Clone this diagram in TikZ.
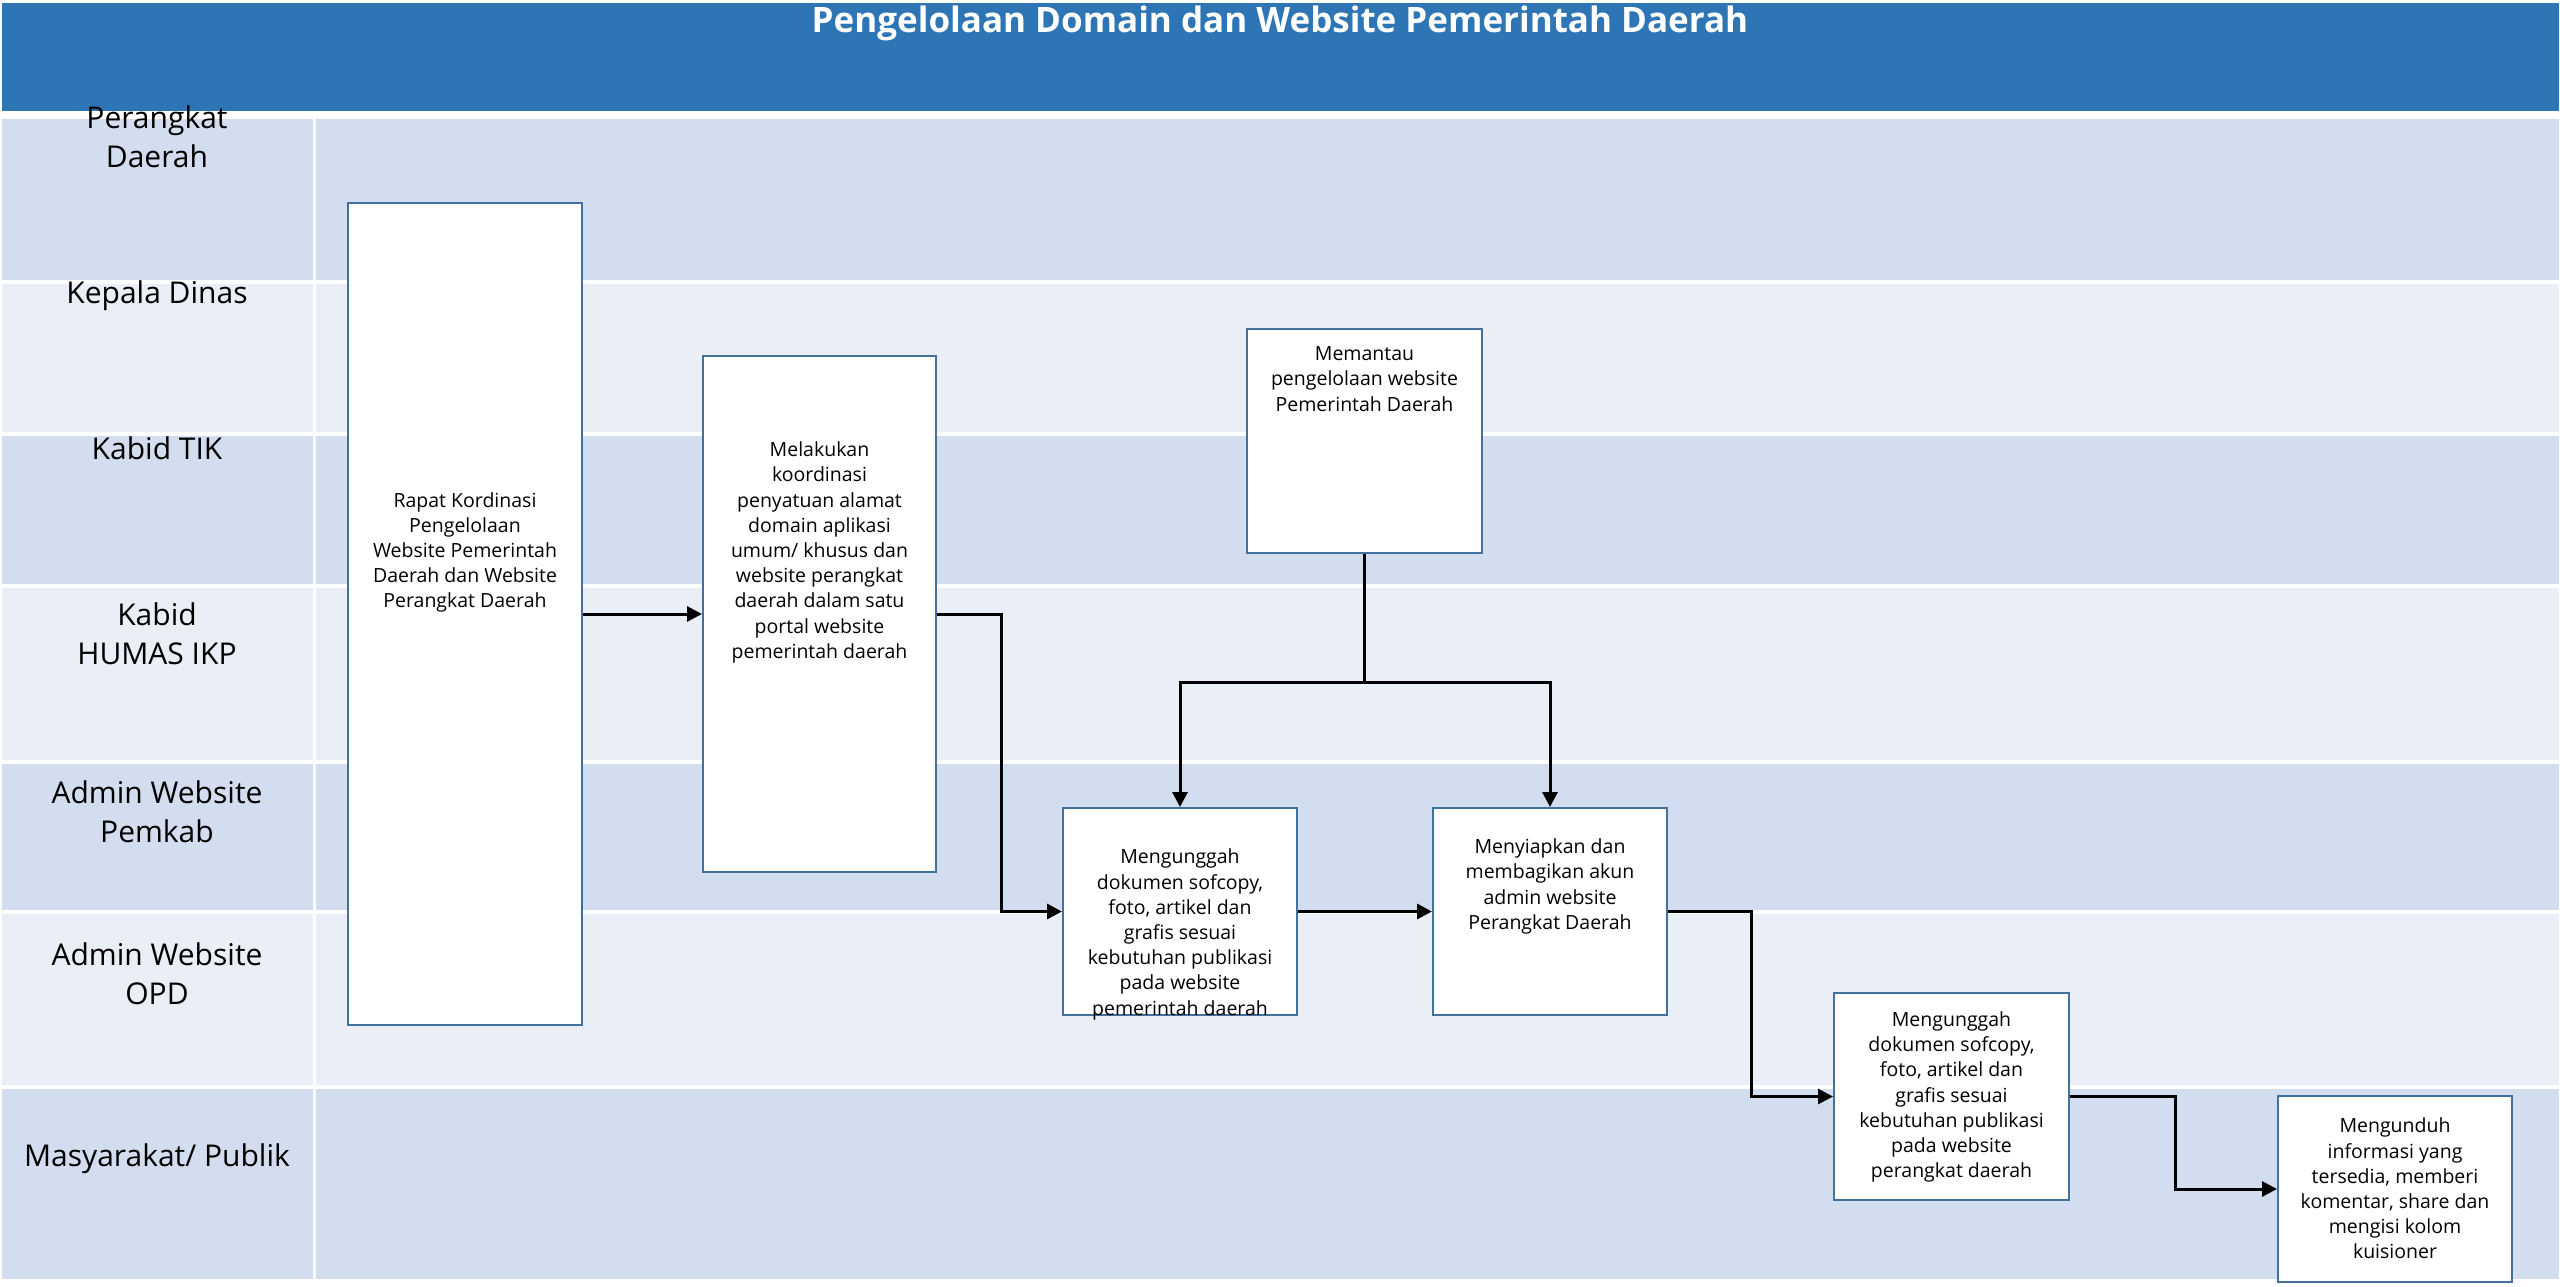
\documentclass[tikz,border=0pt]{standalone}
\usepackage{fontspec}
\setmainfont{Open Sans}
\usetikzlibrary{arrows.meta}

\definecolor{titleblue}{HTML}{2E75B6}
\definecolor{lanedark}{HTML}{D2DEEF}
\definecolor{lanelight}{HTML}{E9EEF7}
\definecolor{boxblue}{HTML}{41719C}

\begin{document}
\begin{tikzpicture}[x=1pt,y=-1pt,
	box/.style={draw=boxblue,line width=2pt,fill=white,inner sep=0pt},
	boxtext/.style={align=center,inner sep=0pt,font=\fontsize{19.5}{25.2}\selectfont},
	lanetext/.style={align=center,inner sep=0pt,font=\fontsize{30}{39}\selectfont},
	flow/.style={line width=3pt,-{Triangle[length=15pt,width=15pt]}}]

		\useasboundingbox (0,0) rectangle (2560,1287);
		\fill [white] (0,0) rectangle (2560,1287);

		\fill [titleblue] (2,3) rectangle (2559,111);
		\node [anchor=base,text=white,inner sep=0pt,font=\fontsize{35}{40}\selectfont\bfseries] (TITLE) at (1280,33) {Pengelolaan Domain dan Website Pemerintah Daerah};

		\fill [lanedark] (2,119) rectangle (2559,280);
		\fill [lanelight] (2,284) rectangle (2559,432);
		\fill [lanedark] (2,436) rectangle (2559,584);
		\fill [lanelight] (2,588) rectangle (2559,760);
		\fill [lanedark] (2,764) rectangle (2559,910);
		\fill [lanelight] (2,914) rectangle (2559,1085);
		\fill [lanedark] (2,1089) rectangle (2559,1279);
		\draw [white,line width=2.5pt] (314.5,119) -- (314.5,1279);

		\node [lanetext] (PD) at (157,136.5) {Perangkat\\Daerah};
		\node [lanetext] (KADIS) at (157,296) {Kepala Dinas};
		\node [lanetext] (TIK) at (157,448) {Kabid TIK};
		\node [lanetext] (HUMAS) at (157,633.5) {Kabid\\HUMAS IKP};
		\node [lanetext] (PEMKAB) at (157,811.5) {Admin Website\\Pemkab};
		\node [lanetext] (OPD) at (157,973.5) {Admin Website\\OPD};
		\node [lanetext] (PUBLIK) at (157,1159) {Masyarakat/ Publik};

		\node [box,minimum width=234pt,minimum height=822pt] (RAPAT) at (465,614) {};
		\node [box,minimum width=233pt,minimum height=516pt] (KOORDINASI) at (819.5,614) {};
		\node [box,minimum width=235pt,minimum height=224pt] (MEMANTAU) at (1364.5,441) {};
		\node [box,minimum width=234pt,minimum height=207pt] (UNGGAHPEMDA) at (1180,911.5) {};
		\node [box,minimum width=234pt,minimum height=207pt] (AKUN) at (1550,911.5) {};
		\node [box,minimum width=235pt,minimum height=207pt] (UNGGAHOPD) at (1951.5,1096.5) {};
		\node [box,minimum width=234pt,minimum height=186pt] (UNDUH) at (2395,1189) {};

		\node [boxtext] (RAPATTXT) at (465,552.5) {Rapat Kordinasi\\Pengelolaan\\Website Pemerintah\\Daerah dan Website\\Perangkat Daerah};
		\node [boxtext] (KOORDINASITXT) at (819.5,552.5) {Melakukan\\koordinasi\\penyatuan alamat\\domain aplikasi\\umum/ khusus dan\\website perangkat\\daerah dalam satu\\portal website\\pemerintah daerah};
		\node [boxtext] (MEMANTAUTXT) at (1364.5,379) {Memantau\\pengelolaan website\\Pemerintah Daerah};
		\node [boxtext] (UNGGAHPEMDATXT) at (1180,934.5) {Mengunggah\\dokumen sofcopy,\\foto, artikel dan\\grafis sesuai\\kebutuhan publikasi\\pada website\\pemerintah daerah};
		\node [boxtext] (AKUNTXT) at (1550,886.5) {Menyiapkan dan\\membagikan akun\\admin website\\Perangkat Daerah};
		\node [boxtext] (UNGGAHOPDTXT) at (1951.5,1097) {Mengunggah\\dokumen sofcopy,\\foto, artikel dan\\grafis sesuai\\kebutuhan publikasi\\pada website\\perangkat daerah};
		\node [boxtext] (UNDUHTXT) at (2395,1188.5) {Mengunduh\\informasi yang\\tersedia, memberi\\komentar, share dan\\mengisi kolom\\kuisioner};

		\draw [flow] (RAPAT.east) -- (KOORDINASI.west);
		\draw [flow] (KOORDINASI.east) -- ++(64,0) |- (UNGGAHPEMDA.west);
		\draw [line width=3pt] (MEMANTAU.south) -- ++(0,128) coordinate (SPLIT);
		\draw [flow] (SPLIT) -| (UNGGAHPEMDA.north);
		\draw [flow] (SPLIT) -| (AKUN.north);
		\draw [flow] (UNGGAHPEMDA.east) -- (AKUN.west);
		\draw [flow] (AKUN.east) -- ++(83,0) |- (UNGGAHOPD.west);
		\draw [flow] (UNGGAHOPD.east) -- ++(105,0) |- (UNDUH.west);

	\end{tikzpicture}
\end{document}
